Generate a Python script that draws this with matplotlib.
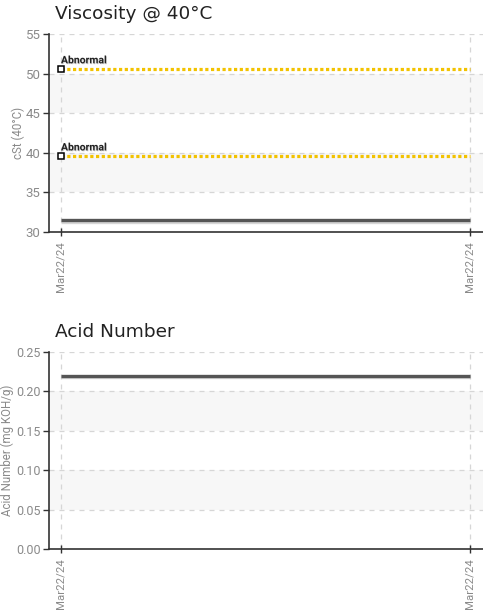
import matplotlib

matplotlib.use("Agg")
import matplotlib.pyplot as plt
import matplotlib.patheffects as pe

plt.rcParams["font.family"] = ["DejaVu Sans"]

# data
DATES = ["Mar22/24", "Mar22/24"]
VISCOSITY = [31.5, 31.5]
VISC_LIMITS = [50.6, 39.6]
VISC_LIMIT_LABEL = "Abnormal"
VISC_TICKS = [30, 35, 40, 45, 50, 55]
VISC_BANDS = [(35, 40), (45, 50)]
ACID = [0.22, 0.22]
ACID_TICKS = [0.00, 0.05, 0.10, 0.15, 0.20, 0.25]
ACID_BANDS = [(0.05, 0.10), (0.15, 0.20)]

LINE = "#555555"
LIMIT = "#f2c200"
GRID = "#d6d6d6"
BAND = "#f7f7f7"
TICKTXT = "#8a8a8a"
SPINE = "#333333"
NARROW = ["Roboto", "DejaVu Sans"]


def style_axes(ax, yticks, fmt, ylabel, bands, label_x, tick_size):
    xs = list(range(len(DATES)))
    ax.set_xlim(-0.0293, 1.0318)
    ax.set_ylim(yticks[0], yticks[-1])
    for lo, hi in bands:
        ax.axhspan(lo, hi, color=BAND, zorder=0, lw=0)
    ax.set_yticks(yticks)
    ax.set_yticklabels([fmt.format(t) for t in yticks], family=NARROW, fontsize=tick_size, color=TICKTXT)
    ax.set_xticks(xs)
    ax.set_xticklabels(DATES, rotation=90, family=NARROW, fontsize=8.2, color=TICKTXT)
    ax.tick_params(axis="y", length=4, width=1, color=SPINE, pad=2)
    ax.tick_params(axis="x", length=6, width=1, color=SPINE, direction="inout", pad=4)
    ax.grid(True, color=GRID, linestyle=(0, (4, 4)), linewidth=0.9)
    ax.set_axisbelow(True)
    for s in ("top", "right"):
        ax.spines[s].set_visible(False)
    for s in ("left", "bottom"):
        ax.spines[s].set_color(SPINE)
        ax.spines[s].set_linewidth(1.2)
    ax.set_ylabel(ylabel, family=NARROW, fontsize=8.3, color=TICKTXT)
    ax.yaxis.set_label_coords(label_x, 0.5)


fig = plt.figure(figsize=(4.83, 6.13), dpi=100)
ax1 = fig.add_axes([0.1014, 0.6215, 0.8986, 0.323])
ax2 = fig.add_axes([0.1014, 0.1044, 0.8986, 0.3214])

shadow = [pe.SimpleLineShadow(offset=(0, -1.2), shadow_color="#bbbbbb", alpha=0.6), pe.Normal()]

# viscosity panel
style_axes(ax1, VISC_TICKS, "{:d}", "cSt (40°C)", VISC_BANDS, (25 - 49) / 434, 9.5)
xs = list(range(len(DATES)))
ax1.plot(xs, VISCOSITY, color=LINE, lw=2.4, solid_capstyle="butt", path_effects=shadow, zorder=3)
for lim in VISC_LIMITS:
    ax1.plot(xs, [lim, lim], color=LIMIT, lw=2.3, linestyle=(0, (1, 0.8)), zorder=3)
    ax1.plot([xs[0]], [lim], marker="s", ms=4.5, mfc="white", mec="black", mew=1.1, zorder=4)
    ax1.annotate(VISC_LIMIT_LABEL, (xs[0], lim), xytext=(0, 4), textcoords="offset points",
                 fontsize=7.5, fontweight="bold", color="#222222", family=NARROW,
                 path_effects=[pe.withSimplePatchShadow(offset=(0.6, -0.6), shadow_rgbFace="#aaaaaa", alpha=0.6)])

# acid number panel
style_axes(ax2, ACID_TICKS, "{:.2f}", "Acid Number (mg KOH/g)", ACID_BANDS, (14 - 49) / 434, 9)
ax2.plot(xs, ACID, color=LINE, lw=2.4, solid_capstyle="butt", path_effects=shadow, zorder=3)

fig.text(55 / 483, 1 - 19 / 613, "Viscosity @ 40°C", fontsize=13.3, color="#222222")
fig.text(55 / 483, 1 - 337 / 613, "Acid Number", fontsize=13.3, color="#222222")

fig.savefig("out.png", dpi=100)
